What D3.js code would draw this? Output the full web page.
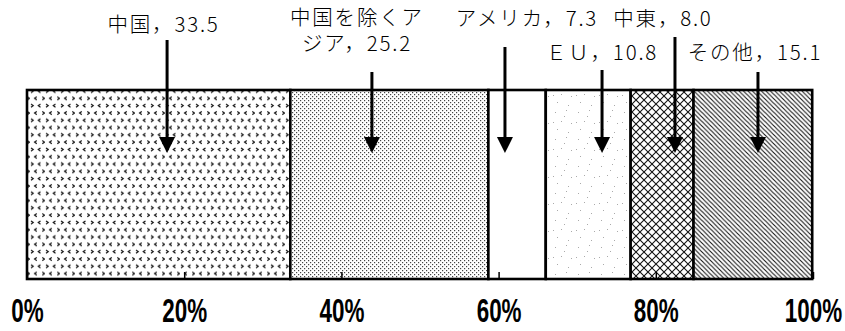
<!DOCTYPE html>
<html lang="ja">
<head>
<meta charset="utf-8">
<script src="https://cdn.jsdelivr.net/npm/d3@7"></script>
<style>
  html, body { margin: 0; padding: 0; background: #fff; }
  svg { display: block; }
</style>
</head>
<body>
<svg id="chart" width="845" height="331"></svg>
<script>
// Regional shares (%) shown as one 100% stacked bar
const regions = ["中国", "中国を除くアジア", "アメリカ", "ＥＵ", "中東", "その他"];
const shares = [33.5, 25.2, 7.3, 10.8, 8.0, 15.1];
const tickValues = [0, 20, 40, 60, 80, 100];

// Fill pattern for each segment
const fills = ["chev", "stipple", "none", "sparse", "cross", "diag"];

// Callout layout: arrow position inside its segment (0..1), top of the arrow line,
// text offset from the arrow, baselines of the text lines, where the text wraps
const callouts = [
  { at: 0.532, top: 40, dx: -3.5, base: [32] },
  { at: 0.412, top: 72, dx: -15, base: [25, 51], wrap: 6 },
  { at: 0.289, top: 47, dx: 22, base: [25.5] },
  { at: 0.663, top: 70, dx: 0, base: [60] },
  { at: 0.705, top: 37, dx: -12, base: [25.5] },
  { at: 0.543, top: 72, dx: -3, base: [60] }
];

const svg = d3.select("#chart");
const barTop = 90, barBottom = 279;
const x = d3.scaleLinear().domain([0, 100]).range([27, 813]);

// ---- patterns ----
const defs = svg.append("defs");

// small alternating chevrons
const pChev = defs.append("pattern").attr("id", "chev")
  .attr("patternUnits", "userSpaceOnUse").attr("width", 15).attr("height", 14.6);
pChev.append("rect").attr("width", 15).attr("height", 14.6).attr("fill", "#fff");
[[2, 2, 1], [9.5, 2, -1], [5.8, 9.3, -1], [13.3, 9.3, 1]].forEach(([cx, cy, dir]) => {
  pChev.append("path")
    .attr("d", `M${cx - dir},${cy} L${cx + dir * 1.2},${cy + 1.5} L${cx - dir},${cy + 3}`)
    .attr("fill", "none").attr("stroke", "#111").attr("stroke-width", 1.2);
});

// fine dot stipple
const pStip = defs.append("pattern").attr("id", "stipple")
  .attr("patternUnits", "userSpaceOnUse").attr("width", 4).attr("height", 4);
pStip.append("rect").attr("width", 4).attr("height", 4).attr("fill", "#fff");
pStip.append("rect").attr("x", 0).attr("y", 0).attr("width", 1.2).attr("height", 1.2).attr("fill", "#444");
pStip.append("rect").attr("x", 2).attr("y", 2).attr("width", 1.2).attr("height", 1.2).attr("fill", "#444");

// sparse light speckle
const pSparse = defs.append("pattern").attr("id", "sparse")
  .attr("patternUnits", "userSpaceOnUse").attr("width", 23).attr("height", 27);
pSparse.append("rect").attr("width", 23).attr("height", 27).attr("fill", "#fff");
[[3, 4], [14, 2], [9, 13], [19, 15], [5, 21], [16, 24], [12, 8], [1, 14]].forEach(([px, py]) => {
  pSparse.append("rect").attr("x", px).attr("y", py).attr("width", 1).attr("height", 1).attr("fill", "#aaa");
});

// diagonal cross-hatch
const pCross = defs.append("pattern").attr("id", "cross")
  .attr("patternUnits", "userSpaceOnUse").attr("width", 8).attr("height", 8);
pCross.append("rect").attr("width", 8).attr("height", 8).attr("fill", "#fff");
pCross.append("path").attr("d", "M-1,-1 L9,9 M-1,9 L9,-1")
  .attr("stroke", "#111").attr("stroke-width", 1.1);

// dense back-slash lines
const pDiag = defs.append("pattern").attr("id", "diag")
  .attr("patternUnits", "userSpaceOnUse").attr("width", 4.5).attr("height", 4.5);
pDiag.append("rect").attr("width", 4.5).attr("height", 4.5).attr("fill", "#fff");
pDiag.append("path").attr("d", "M-1,-1 L5.5,5.5 M-5.5,-1 L1,5.5 M3.5,-1 L10,5.5")
  .attr("stroke", "#111").attr("stroke-width", 1.1);

// ---- segments ----
const starts = shares.map((v, i) => d3.sum(shares.slice(0, i)));
const segs = regions.map((name, i) => ({ name, value: shares[i], start: starts[i], fill: fills[i], c: callouts[i] }));

svg.append("g").selectAll("rect").data(segs).join("rect")
  .attr("x", d => x(d.start))
  .attr("y", barTop)
  .attr("width", d => x(d.start + d.value) - x(d.start))
  .attr("height", barBottom - barTop)
  .attr("fill", d => d.fill === "none" ? "#fff" : `url(#${d.fill})`)
  .attr("stroke", "#000")
  .attr("stroke-width", 2.6);

// ---- axis ----
const axis = svg.append("g").attr("transform", `translate(0,${barBottom})`)
  .call(d3.axisBottom(x).tickValues(tickValues).tickSize(-7).tickFormat(d => d + "%"));
axis.select(".domain").remove();
axis.selectAll(".tick line").attr("stroke", "#000").attr("stroke-width", 1.5);
axis.selectAll(".tick text")
  .attr("y", 43).attr("dy", 0)
  .attr("transform", "scale(0.68,1)")
  .attr("fill", "#000")
  .style("font-family", "'Liberation Sans', Arial, sans-serif")
  .style("font-weight", "bold")
  .style("font-size", "33px");

// ---- callouts ----
const cg = svg.append("g").selectAll("g").data(segs).join("g");
const ax = d => x(d.start + d.c.at * d.value);

cg.append("line")
  .attr("x1", ax).attr("x2", ax)
  .attr("y1", d => d.c.top).attr("y2", 140)
  .attr("stroke", "#000").attr("stroke-width", 3);
cg.append("path")
  .attr("d", d => `M${ax(d) - 8},137 L${ax(d) + 8},137 L${ax(d)},153 Z`)
  .attr("fill", "#000");

cg.each(function (d) {
  const full = d.name + "，" + d.value.toFixed(1);
  const lines = d.c.wrap ? [full.slice(0, d.c.wrap), full.slice(d.c.wrap)] : [full];
  d3.select(this).selectAll("text").data(lines).join("text")
    .attr("x", ax(d) + d.c.dx)
    .attr("y", (t, i) => d.c.base[i])
    .attr("text-anchor", "middle")
    .attr("fill", "#000")
    .style("font-family", "'Noto Sans CJK JP', sans-serif")
    .style("font-weight", 300)
    .style("font-size", "20.5px")
    .style("letter-spacing", "1.8px")
    .text(t => t);
});
</script>
</body>
</html>
